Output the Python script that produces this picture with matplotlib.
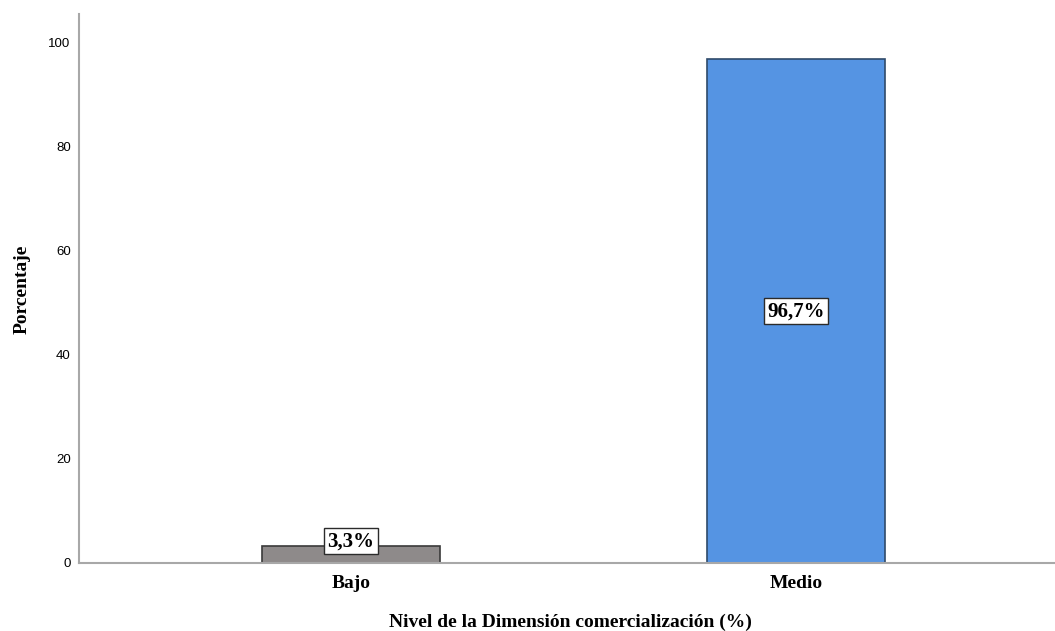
import matplotlib.pyplot as plt

categories = ["Bajo", "Medio"]
percentages = [3.3, 96.7]
bar_labels = ["3,3%", "96,7%"]
bar_colors = ["#8E8A8A", "#5594E3"]
edge_colors = ["#3a3a3a", "#2f4a6a"]
y_ticks = [0, 20, 40, 60, 80, 100]

serif = "Liberation Serif"

fig = plt.figure(figsize=(10.55, 6.31), dpi=100)
ax = fig.add_axes([0.0749, 0.1078, 0.9251, 0.870])

x = list(range(len(categories)))
ax.bar(x, percentages, width=0.4, color=bar_colors, edgecolor=edge_colors, linewidth=1.2, zorder=2)

# value labels in white boxes, lifted a bit when the bar is too thin
for xi, v, lab in zip(x, percentages, bar_labels):
    ax.text(xi, max(v / 2, 4.2), lab, ha="center", va="center", fontsize=15,
            fontweight="bold", family=serif, zorder=3,
            bbox=dict(boxstyle="square,pad=0.15", facecolor="white", edgecolor="#2b2b2b", linewidth=1.0))

ax.set_xlim(-0.611, 1.582)
ax.set_ylim(0, 105.4)
ax.set_xticks(x)
ax.set_xticklabels(categories, fontsize=14, fontweight="bold", family=serif)
ax.set_yticks(y_ticks)
ax.set_yticklabels([str(t) for t in y_ticks], fontsize=9.5, family="Liberation Sans")
ax.tick_params(axis="both", length=0)
ax.tick_params(axis="y", pad=6)
ax.tick_params(axis="x", pad=9)

for s in ["top", "right"]:
    ax.spines[s].set_visible(False)
for s in ["left", "bottom"]:
    ax.spines[s].set_color("#A8A8A8")
    ax.spines[s].set_linewidth(1.5)

ax.set_ylabel("Porcentaje", fontsize=14, fontweight="bold", family=serif)
ax.yaxis.set_label_coords(-0.050, 0.499)
ax.set_xlabel("Nivel de la Dimensión comercialización (%)", fontsize=14, fontweight="bold", family=serif)
ax.xaxis.set_label_coords(0.504, -0.092)

fig.savefig("out.png", dpi=100)
